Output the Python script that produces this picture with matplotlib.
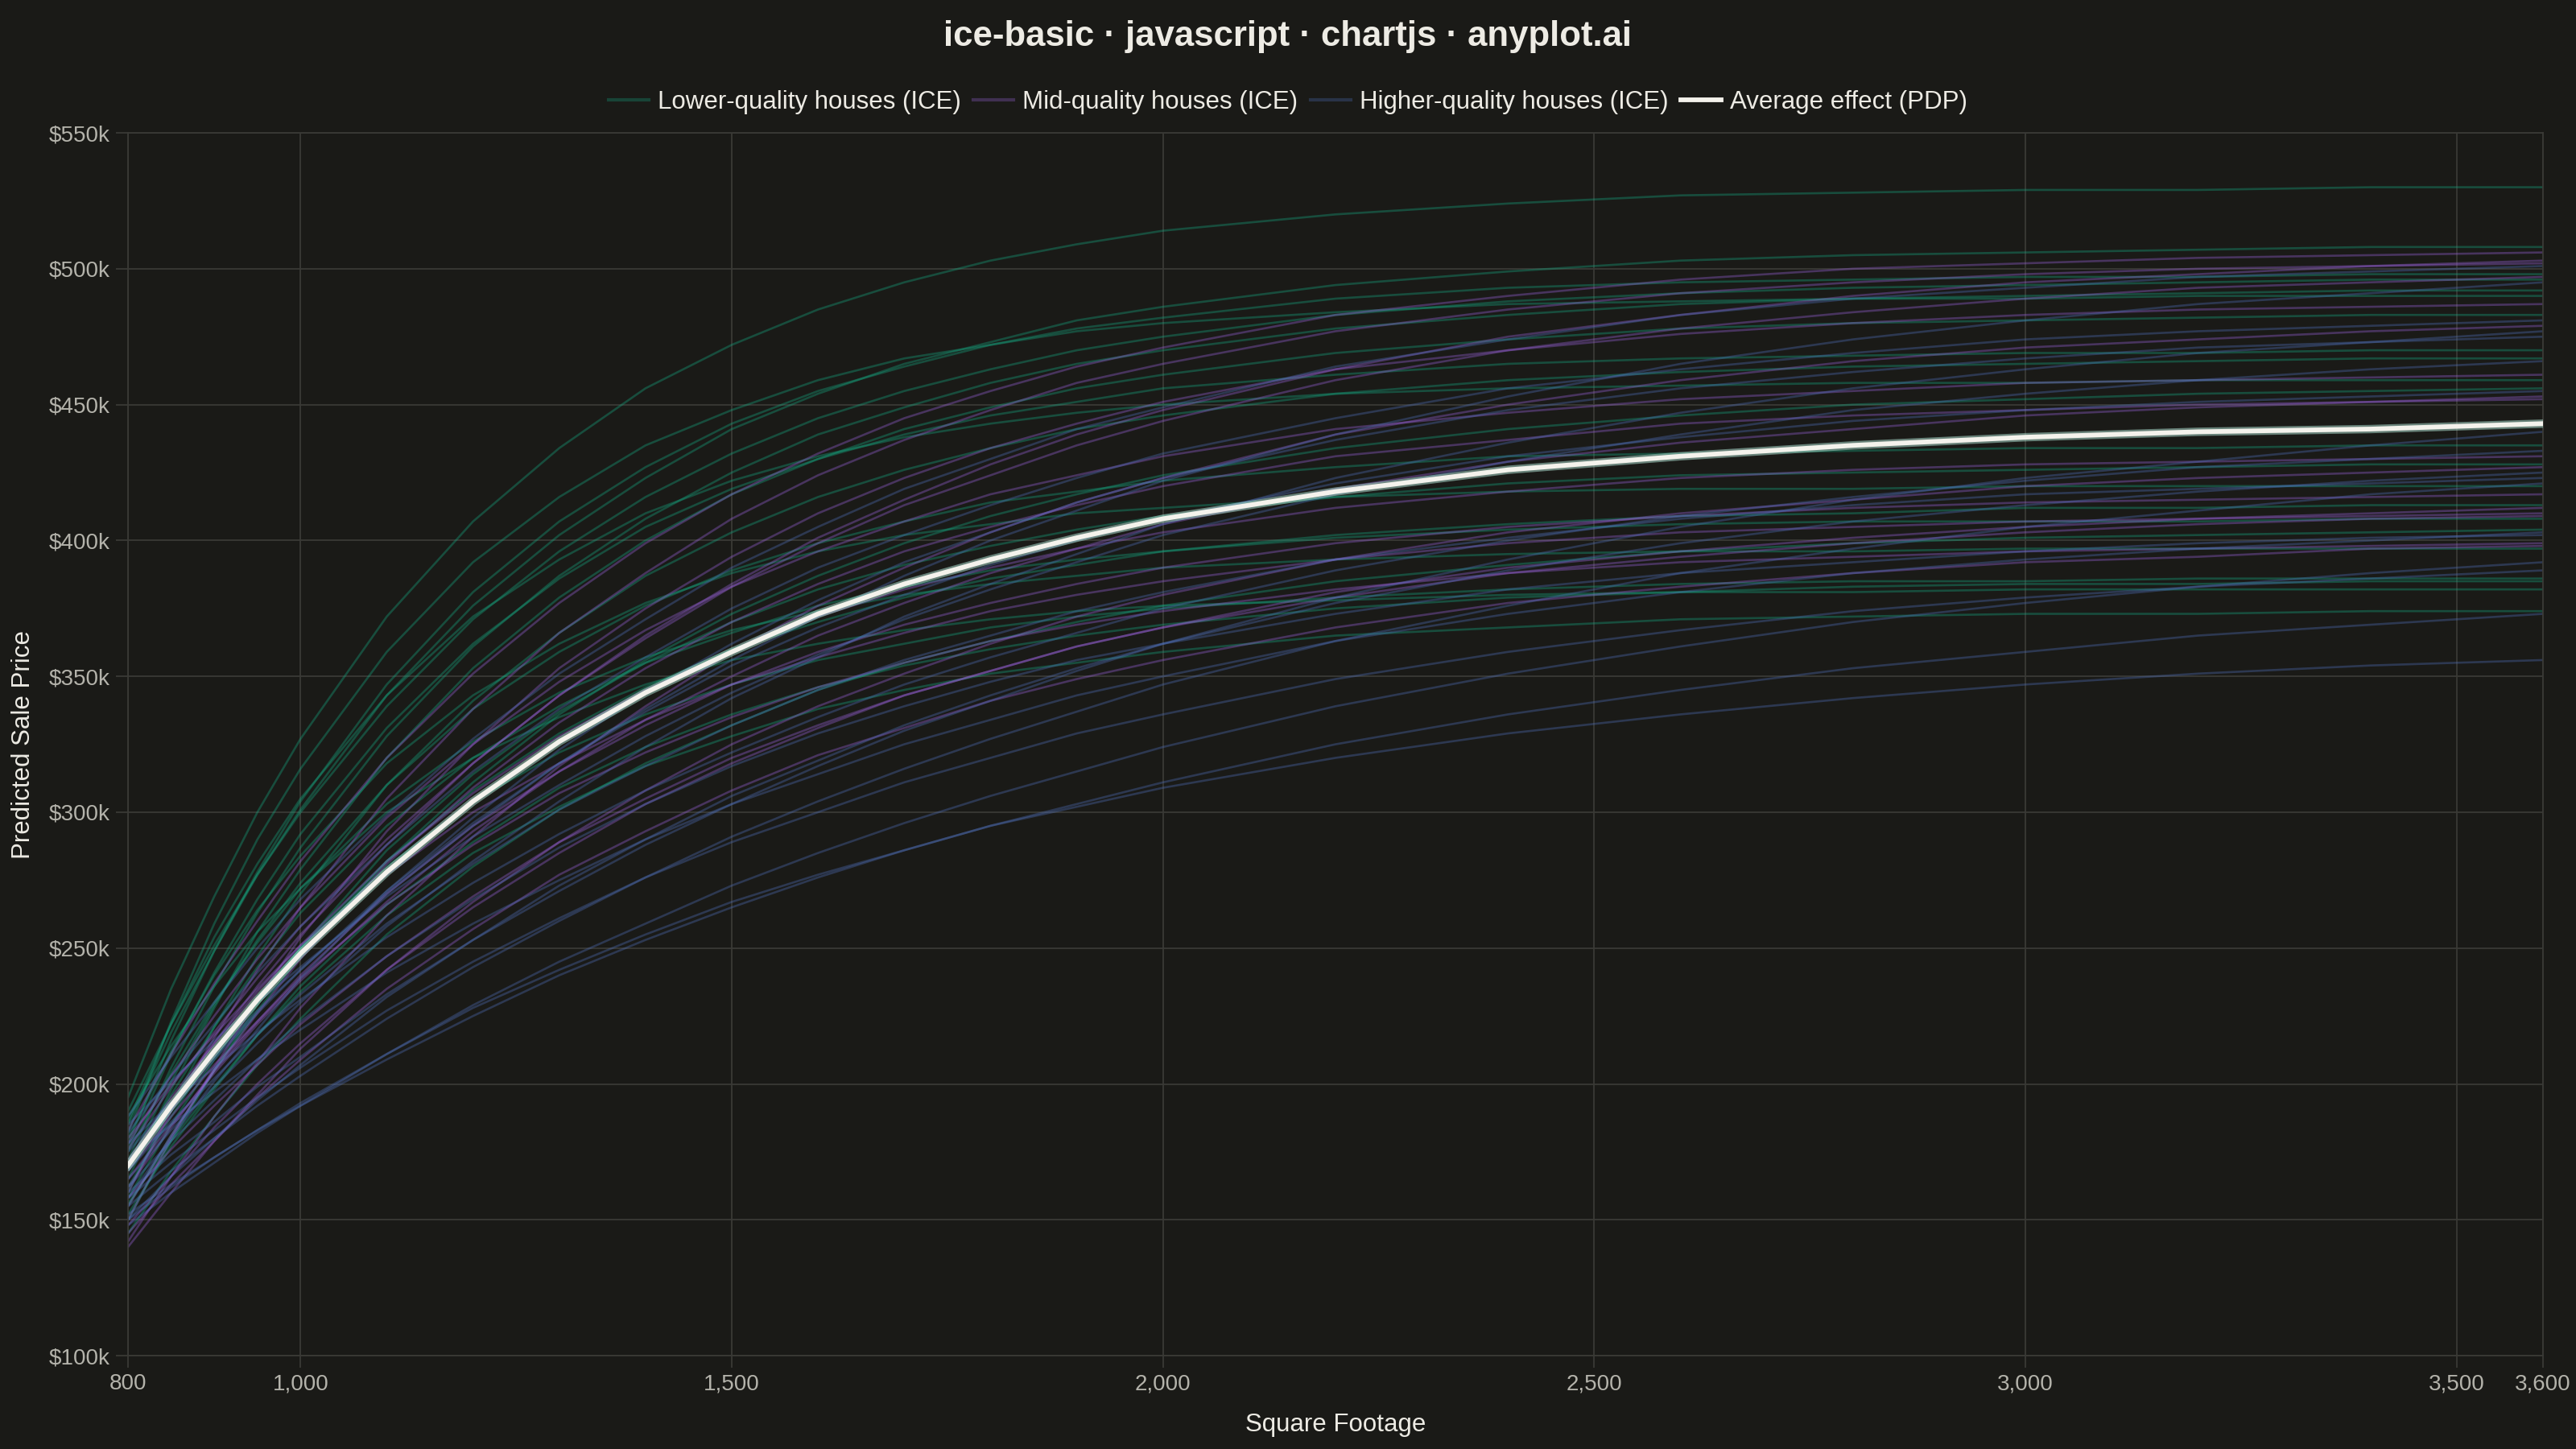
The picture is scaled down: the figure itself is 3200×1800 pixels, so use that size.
"""ICE curves (individual houses) plus the PDP average, price vs. square footage."""

import matplotlib
matplotlib.use("Agg")
from matplotlib import pyplot as plt
from matplotlib.ticker import FuncFormatter, FixedLocator

# ---- data ($k) ----
SQFT = [800, 850, 900, 950, 1000, 1100, 1200, 1300, 1400, 1500, 1600, 1700, 1800, 1900,
        2000, 2200, 2400, 2600, 2800, 3000, 3200, 3400, 3600]

LOWER_ICE = [
    [195, 235, 269, 300, 327, 372, 407, 434, 456, 472, 485, 495, 503, 509, 514, 520, 524, 527, 528, 529, 529, 530, 530],
    [185, 219, 249, 277, 301, 343, 376, 402, 423, 441, 454, 465, 473, 481, 486, 494, 499, 503, 505, 506, 507, 508, 508],
    [178, 216, 249, 278, 304, 347, 381, 407, 427, 443, 455, 464, 472, 478, 482, 489, 493, 495, 496, 497, 497, 498, 498],
    [190, 222, 251, 277, 300, 339, 371, 396, 416, 432, 445, 455, 463, 470, 475, 483, 488, 491, 493, 494, 495, 496, 496],
    [172, 206, 236, 263, 287, 328, 361, 387, 408, 425, 439, 449, 458, 465, 470, 478, 483, 487, 489, 490, 491, 492, 492],
    [182, 223, 259, 290, 316, 359, 392, 416, 435, 448, 459, 467, 472, 477, 480, 484, 487, 488, 489, 489, 490, 490, 490],
    [165, 198, 228, 256, 279, 320, 353, 379, 400, 417, 430, 441, 449, 456, 461, 469, 474, 478, 480, 481, 482, 483, 483],
    [176, 211, 241, 268, 292, 331, 362, 386, 405, 419, 430, 439, 446, 451, 456, 461, 465, 467, 468, 469, 469, 470, 470],
    [160, 192, 221, 247, 270, 310, 341, 366, 387, 403, 416, 426, 434, 441, 446, 454, 459, 462, 464, 465, 466, 467, 467],
    [186, 222, 254, 281, 305, 343, 372, 393, 410, 422, 431, 438, 443, 447, 450, 454, 456, 457, 458, 458, 459, 459, 459],
    [155, 181, 205, 227, 247, 282, 311, 336, 356, 373, 387, 399, 409, 417, 424, 434, 441, 446, 450, 452, 454, 455, 456],
    [170, 201, 229, 253, 274, 310, 338, 359, 376, 389, 399, 407, 414, 418, 422, 427, 431, 432, 433, 434, 434, 435, 435],
    [150, 179, 205, 229, 250, 286, 314, 337, 355, 370, 382, 391, 398, 404, 409, 416, 421, 424, 425, 426, 427, 428, 428],
    [180, 212, 240, 264, 284, 318, 343, 362, 377, 388, 396, 402, 406, 410, 412, 416, 418, 419, 419, 420, 420, 420, 420],
    [158, 185, 209, 231, 250, 282, 308, 329, 346, 360, 370, 379, 386, 391, 396, 402, 406, 409, 410, 412, 412, 413, 413],
    [168, 196, 221, 243, 263, 295, 320, 339, 355, 366, 376, 383, 389, 393, 396, 401, 404, 406, 407, 407, 407, 408, 408],
    [145, 168, 188, 207, 224, 255, 280, 301, 318, 332, 345, 355, 363, 370, 376, 385, 391, 396, 399, 401, 402, 403, 404],
    [175, 204, 230, 252, 272, 303, 326, 344, 357, 367, 374, 380, 384, 387, 390, 393, 395, 396, 396, 397, 397, 397, 397],
    [162, 188, 212, 232, 250, 280, 304, 322, 336, 347, 356, 362, 368, 372, 375, 379, 382, 384, 385, 385, 386, 386, 386],
    [152, 177, 198, 218, 236, 266, 289, 309, 324, 336, 346, 354, 360, 365, 369, 375, 379, 381, 383, 384, 384, 385, 385],
    [188, 214, 236, 256, 272, 300, 320, 335, 347, 356, 362, 367, 371, 374, 376, 378, 380, 381, 381, 382, 382, 382, 382],
    [156, 179, 199, 218, 234, 262, 285, 302, 317, 328, 338, 345, 351, 355, 359, 365, 368, 371, 372, 373, 373, 374, 374],
]

MID_ICE = [
    [183, 211, 237, 260, 282, 320, 351, 377, 399, 417, 432, 445, 455, 464, 471, 483, 490, 496, 500, 502, 504, 505, 506],
    [170, 193, 215, 236, 255, 288, 318, 343, 365, 384, 401, 415, 428, 439, 448, 463, 475, 483, 490, 495, 498, 501, 503],
    [160, 190, 217, 242, 265, 305, 338, 366, 388, 408, 424, 437, 448, 458, 465, 477, 485, 491, 495, 498, 500, 501, 502],
    [176, 199, 219, 239, 258, 290, 318, 343, 364, 383, 399, 413, 424, 435, 444, 459, 470, 478, 484, 489, 493, 495, 497],
    [150, 180, 206, 231, 254, 293, 325, 353, 375, 394, 410, 423, 434, 443, 451, 463, 470, 476, 480, 483, 485, 486, 487],
    [142, 166, 188, 208, 228, 262, 291, 317, 339, 359, 376, 390, 403, 414, 423, 439, 450, 459, 466, 471, 474, 477, 479],
    [178, 203, 225, 246, 265, 298, 325, 348, 367, 383, 396, 407, 417, 424, 431, 441, 447, 452, 455, 458, 459, 460, 461],
    [165, 185, 204, 222, 238, 267, 293, 315, 334, 350, 365, 377, 388, 397, 406, 419, 429, 436, 441, 446, 449, 451, 453],
    [155, 181, 205, 226, 246, 281, 309, 333, 353, 370, 384, 396, 405, 413, 420, 431, 437, 443, 446, 448, 450, 451, 452],
    [172, 195, 215, 234, 251, 282, 307, 328, 345, 359, 372, 382, 390, 397, 403, 412, 418, 423, 426, 428, 429, 430, 431],
    [140, 160, 179, 196, 213, 242, 267, 289, 308, 325, 339, 351, 362, 372, 380, 393, 403, 410, 415, 420, 423, 425, 427],
    [162, 184, 205, 223, 240, 270, 295, 315, 332, 347, 359, 369, 377, 384, 390, 399, 405, 409, 412, 414, 415, 416, 417],
    [148, 166, 184, 200, 215, 242, 265, 285, 303, 318, 331, 343, 352, 361, 368, 381, 390, 396, 401, 405, 408, 410, 412],
    [180, 200, 218, 235, 251, 277, 300, 318, 334, 347, 357, 366, 374, 380, 385, 393, 399, 403, 405, 407, 408, 409, 410],
    [158, 176, 192, 207, 222, 247, 269, 289, 305, 320, 332, 343, 352, 361, 368, 379, 388, 394, 399, 403, 406, 408, 409],
    [168, 188, 207, 223, 239, 266, 288, 307, 322, 335, 346, 355, 363, 369, 374, 382, 388, 392, 394, 396, 397, 398, 399],
    [145, 163, 179, 195, 209, 235, 257, 277, 293, 308, 321, 331, 341, 349, 356, 368, 377, 383, 388, 392, 394, 397, 398],
]

HIGHER_ICE = [
    [188, 210, 230, 250, 268, 299, 327, 351, 371, 390, 405, 419, 430, 441, 449, 464, 474, 483, 489, 493, 497, 499, 501],
    [175, 193, 210, 227, 242, 270, 295, 318, 338, 356, 372, 387, 400, 411, 422, 439, 453, 465, 474, 481, 487, 491, 495],
    [182, 203, 222, 241, 258, 288, 315, 338, 357, 375, 390, 402, 413, 423, 432, 445, 456, 463, 469, 474, 477, 479, 481],
    [165, 183, 199, 215, 230, 258, 282, 304, 324, 342, 357, 372, 384, 395, 406, 423, 436, 447, 456, 463, 469, 473, 477],
    [158, 180, 201, 220, 239, 271, 298, 323, 344, 362, 378, 392, 403, 414, 423, 437, 448, 456, 462, 467, 471, 473, 475],
    [185, 201, 216, 230, 243, 269, 291, 310, 328, 344, 358, 371, 382, 392, 402, 417, 429, 439, 448, 454, 459, 463, 466],
    [170, 190, 209, 226, 242, 271, 296, 318, 337, 354, 368, 380, 391, 400, 408, 421, 431, 438, 444, 448, 451, 453, 455],
    [160, 174, 186, 199, 210, 233, 253, 271, 288, 303, 317, 330, 341, 352, 362, 379, 393, 405, 415, 423, 429, 435, 440],
    [178, 193, 206, 219, 231, 254, 274, 292, 308, 322, 335, 347, 357, 366, 375, 389, 400, 409, 416, 422, 427, 430, 433],
    [150, 166, 180, 194, 207, 232, 253, 273, 290, 306, 319, 332, 343, 353, 362, 377, 389, 399, 407, 413, 418, 422, 425],
    [168, 186, 202, 218, 233, 259, 281, 301, 317, 332, 345, 356, 365, 374, 381, 393, 401, 408, 413, 417, 419, 421, 423],
    [155, 168, 180, 192, 203, 224, 243, 260, 276, 291, 304, 316, 327, 337, 347, 363, 376, 388, 397, 405, 411, 417, 421],
    [172, 185, 197, 209, 220, 241, 259, 275, 290, 303, 314, 325, 334, 343, 350, 363, 373, 381, 388, 393, 397, 400, 403],
    [162, 179, 194, 209, 223, 247, 268, 287, 303, 317, 329, 339, 348, 356, 362, 373, 382, 388, 392, 396, 399, 401, 402],
    [148, 160, 171, 182, 192, 211, 229, 245, 259, 273, 285, 296, 306, 315, 324, 339, 351, 361, 370, 377, 383, 388, 392],
    [158, 171, 183, 195, 206, 227, 245, 261, 276, 289, 300, 311, 320, 329, 336, 349, 359, 367, 374, 379, 383, 386, 389],
    [152, 163, 173, 183, 192, 209, 225, 240, 253, 265, 276, 286, 295, 303, 311, 325, 336, 345, 353, 359, 365, 369, 373],
    [150, 162, 173, 183, 193, 211, 228, 242, 255, 267, 277, 286, 295, 302, 309, 320, 329, 336, 342, 347, 351, 354, 356],
]

PDP = [170, 192, 212, 231, 248, 278, 304, 326, 344, 359, 373, 384, 393, 401, 408, 418, 426, 431, 435, 438, 440, 441, 443]

X_TICKS = [800, 1000, 1500, 2000, 2500, 3000, 3500, 3600]
Y_TICKS = [100, 150, 200, 250, 300, 350, 400, 450, 500, 550]

GROUPS = [
    ("Lower-quality houses (ICE)", LOWER_ICE, "#16A882"),
    ("Mid-quality houses (ICE)", MID_ICE, "#9B63DD"),
    ("Higher-quality houses (ICE)", HIGHER_ICE, "#4F70BA"),
]

BG = "#1A1A17"
GRID = "#3A3A36"
TICK_TXT = "#B4B3AB"
TXT = "#EDEBE4"

plt.rcParams.update({"font.family": ["Liberation Sans", "DejaVu Sans"]})

fig = plt.figure(figsize=(32, 18), dpi=100, facecolor=BG)
ax = fig.add_axes([0.0497, 0.0644, 0.9375, 0.8439], facecolor=BG)

handles = []
for label, curves, color in GROUPS:
    for i, ys in enumerate(curves):
        line, = ax.plot(SQFT, ys, color=color, alpha=0.36, linewidth=1.9,
                        solid_joinstyle="round", label=label if i == 0 else None)
        if i == 0:
            handles.append(line)

# soft halo under the average curve, then the bright core
ax.plot(SQFT, PDP, color="#A9D9CB", alpha=0.55, linewidth=7.5,
        solid_joinstyle="round", zorder=4)
pdp_line, = ax.plot(SQFT, PDP, color="#F4F2EC", linewidth=4.2, solid_joinstyle="round",
                    label="Average effect (PDP)", zorder=5)
handles.append(pdp_line)

ax.set_xlim(800, 3600)
ax.set_ylim(100, 550)
ax.xaxis.set_major_locator(FixedLocator(X_TICKS))
ax.yaxis.set_major_locator(FixedLocator(Y_TICKS))
ax.xaxis.set_major_formatter(FuncFormatter(lambda v, p: f"{int(v):,}"))
ax.yaxis.set_major_formatter(FuncFormatter(lambda v, p: f"${int(v)}k"))

ax.grid(True, color=GRID, linewidth=1.3)
ax.set_axisbelow(True)
for side in ["left", "right", "top", "bottom"]:
    ax.spines[side].set_color(GRID)
    ax.spines[side].set_linewidth(1.3)
ax.tick_params(axis="both", colors=GRID, labelcolor=TICK_TXT, labelsize=20,
               length=11, width=1.3, pad=5)

ax.set_xlabel("Square Footage", fontsize=22.5, color=TXT, labelpad=16)
ax.set_ylabel("Predicted Sale Price", fontsize=22.5, color=TXT, labelpad=12)

fig.text(0.5, 0.975, "ice-basic · javascript · chartjs · anyplot.ai", fontsize=31.5,
         fontweight="bold", color=TXT, ha="center", va="center")

leg = fig.legend(handles=handles, loc="center", bbox_to_anchor=(0.5, 0.9297),
                 ncol=4, frameon=False, fontsize=22.5, handlelength=1.6,
                 handletextpad=0.35, columnspacing=0.5)
for text in leg.get_texts():
    text.set_color(TXT)
for h in leg.legend_handles[:3]:
    h.set_linewidth(3)
    h.set_alpha(0.3)

fig.savefig("out.png", dpi=100, facecolor=BG)
